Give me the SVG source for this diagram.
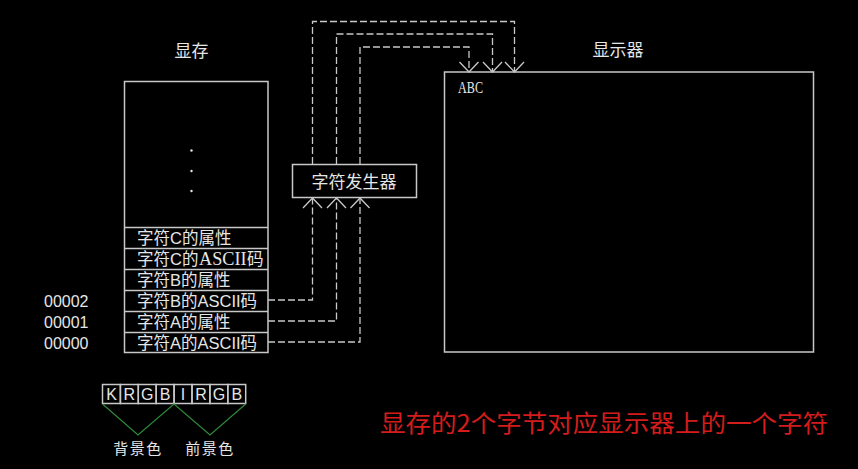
<svg xmlns="http://www.w3.org/2000/svg" width="858" height="469" viewBox="0 0 858 469">
<style>
.box{fill:none;stroke:#c8c8c8;stroke-width:1.5}
.t{font-family:"Liberation Sans","Noto Sans CJK SC",sans-serif;fill:#e6e6e6}
.cn{font-family:"Noto Sans CJK SC",sans-serif;fill:#e6e6e6}
.sf{font-family:"Liberation Serif",serif;fill:#e6e6e6}
.dash{fill:none;stroke:#c8c8c8;stroke-width:1.3;stroke-dasharray:7 3}
.g{fill:none;stroke:#2e8b3a;stroke-width:1.2}
</style>
<defs>
<marker id="v" markerUnits="userSpaceOnUse" markerWidth="24" markerHeight="24" viewBox="-12 -12 24 24" refX="0" refY="0" orient="auto" overflow="visible">
<path d="M-10,-9.5 L0,0 L-10,9.5" fill="none" stroke="#c8c8c8" stroke-width="1.3" stroke-dasharray="none"/>
</marker>
</defs>
<rect width="858" height="469" fill="#000"/>

<g id="memory">
<text class="cn" x="191.5" y="56.5" font-size="17" text-anchor="middle">显存</text>
<rect class="box" x="124.5" y="81.5" width="143.5" height="271"/>
<circle cx="191.5" cy="150.5" r="1.2" fill="#e6e6e6"/>
<circle cx="191.5" cy="171" r="1.2" fill="#e6e6e6"/>
<circle cx="191.5" cy="191" r="1.2" fill="#e6e6e6"/>
<g class="box">
<line x1="124.5" y1="227.5" x2="268" y2="227.5"/>
<line x1="124.5" y1="248.5" x2="268" y2="248.5"/>
<line x1="124.5" y1="269.5" x2="268" y2="269.5"/>
<line x1="124.5" y1="290.5" x2="268" y2="290.5"/>
<line x1="124.5" y1="311.5" x2="268" y2="311.5"/>
<line x1="124.5" y1="332.5" x2="268" y2="332.5"/>
</g>
<g class="t" font-size="16.5">
<text x="137" y="244">字符C的属性</text>
<text x="137" y="265">字符C的</text>
<text x="247" y="265">码</text>
<text x="137" y="286">字符B的属性</text>
<text x="137" y="307">字符B的ASCII码</text>
<text x="137" y="328">字符A的属性</text>
<text x="137" y="349">字符A的ASCII码</text>
</g>
<text class="sf" x="199" y="265" font-size="19" textLength="47.5" lengthAdjust="spacingAndGlyphs">ASCII</text>
<g class="t" font-size="16">
<text x="44" y="307">00002</text>
<text x="44" y="328">00001</text>
<text x="44" y="349">00000</text>
</g>
</g>

<g id="chargen">
<rect class="box" x="292.5" y="164.5" width="124" height="33"/>
<text class="cn" x="354" y="187.5" font-size="17" text-anchor="middle">字符发生器</text>
</g>

<g id="display">
<text class="cn" x="618" y="56" font-size="17" text-anchor="middle">显示器</text>
<rect class="box" x="444.5" y="72" width="369" height="280"/>
<text class="sf" x="458" y="92.5" font-size="17.5" textLength="25" lengthAdjust="spacingAndGlyphs">ABC</text>
</g>

<g id="connectors">
<path class="dash" d="M268,300 H312.5 V198" marker-end="url(#v)"/>
<path class="dash" d="M268,321 H336.5 V198" marker-end="url(#v)"/>
<path class="dash" d="M268,342 H360 V198" marker-end="url(#v)"/>
<path class="dash" d="M312.5,164 V21.5 H514.5 V72" marker-end="url(#v)"/>
<path class="dash" d="M336.5,164 V34 H492.5 V72" marker-end="url(#v)"/>
<path class="dash" d="M360,164 V47 H469 V72" marker-end="url(#v)"/>
</g>

<g id="attribute">
<g class="box" stroke-width="1.2">
<rect x="102.5" y="384.5" width="17.9" height="19"/>
<rect x="120.4" y="384.5" width="17.9" height="19"/>
<rect x="138.3" y="384.5" width="17.9" height="19"/>
<rect x="156.2" y="384.5" width="17.9" height="19"/>
<rect x="174.1" y="384.5" width="17.9" height="19"/>
<rect x="192.0" y="384.5" width="17.9" height="19"/>
<rect x="209.9" y="384.5" width="17.9" height="19"/>
<rect x="227.8" y="384.5" width="17.9" height="19"/>
</g>
<g class="t" font-size="16" text-anchor="middle">
<text x="111.5" y="400">K</text>
<text x="129.4" y="400">R</text>
<text x="147.3" y="400">G</text>
<text x="165.2" y="400">B</text>
<text x="183.1" y="400">I</text>
<text x="201.0" y="400">R</text>
<text x="218.9" y="400">G</text>
<text x="236.8" y="400">B</text>
</g>
<path class="g" d="M102.5,404 L138,435 L174,404 L210,435 L245.7,404"/>
<text class="cn" x="138" y="454" font-size="15" text-anchor="middle" letter-spacing="1.5">背景色</text>
<text class="cn" x="210" y="454" font-size="15" text-anchor="middle" letter-spacing="1.5">前景色</text>
</g>

<text x="380" y="432" font-family="Noto Sans CJK SC, sans-serif" font-size="24" fill="#d41c1c" textLength="448" lengthAdjust="spacingAndGlyphs">显存的2个字节对应显示器上的一个字符</text>
</svg>
